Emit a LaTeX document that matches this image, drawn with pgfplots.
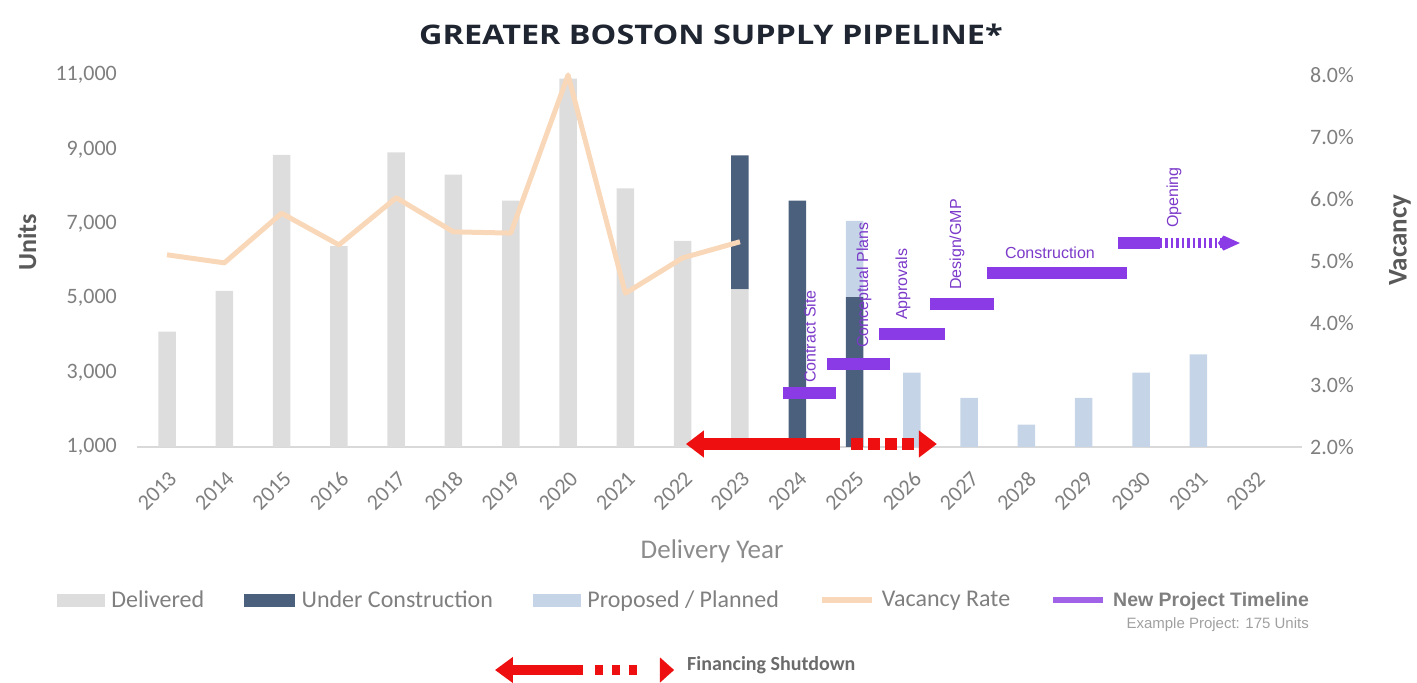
\documentclass[border=0pt]{standalone}
\usepackage{fontspec}
\setmainfont{Carlito}
\newfontfamily\arialfont{Liberation Sans}
\newfontfamily\titlefont{Open Sans}
\usepackage{pgfplots}
\usepackage{pgfplotstable}
\pgfplotsset{compat=1.18}
\usetikzlibrary{arrows.meta}

\definecolor{cDel}{HTML}{DDDDDD}
\definecolor{cUC}{HTML}{4B607D}
\definecolor{cProp}{HTML}{C5D5E7}
\definecolor{cVac}{HTML}{F9D8BA}
\definecolor{cPur}{HTML}{8A3BE6}
\definecolor{cPurL}{HTML}{A062E6}
\definecolor{cPurText}{HTML}{7B3AC9}
\definecolor{cRed}{HTML}{EE1010}
\definecolor{cTick}{HTML}{7F7F7F}
\definecolor{cXlab}{HTML}{8C8C8C}
\definecolor{cYlab}{HTML}{595959}
\definecolor{cTitle}{HTML}{1F2631}
\definecolor{cBase}{HTML}{D9D9D9}
\definecolor{cEx}{HTML}{A0A0A0}
\definecolor{cFin}{HTML}{6B6B6B}

\pgfplotstableread{
year del uc prop
2013 4100 0 0
2014 5200 0 0
2015 8850 0 0
2016 6400 0 0
2017 8920 0 0
2018 8320 0 0
2019 7620 0 0
2020 10900 0 0
2021 7950 0 0
2022 6540 0 0
2023 5240 3600 0
2024 0 7620 0
2025 0 5030 2050
2026 0 0 3000
2027 0 0 2320
2028 0 0 1600
2029 0 0 2320
2030 0 0 3000
2031 0 0 3490
}\supplytable

\pgfplotstableread{
year vac
2013 5.10
2014 4.97
2015 5.77
2016 5.26
2017 6.02
2018 5.47
2019 5.45
2020 8.00
2021 4.48
2022 5.05
2023 5.31
}\vactable

\begin{document}
\begin{tikzpicture}
\useasboundingbox (0pt,0pt) rectangle (1417pt,683pt);

\node[font=\titlefont\bfseries\fontsize{27}{27}\selectfont, text=cTitle, anchor=base, xscale=1.2, inner sep=0pt] at (711pt,638pt) {GREATER BOSTON SUPPLY PIPELINE*};

% ---------- bars (left axis) ----------
\begin{axis}[
  at={(137pt,236pt)}, anchor=south west,
  width=1165pt, height=372pt, scale only axis,
  xmin=2012.476, xmax=2032.81,
  ymin=1000, ymax=11000,
  ybar stacked, bar width=17.5pt,
  axis x line*=bottom, axis y line*=left,
  x axis line style={draw=cBase, line width=1.5pt},
  y axis line style={draw=none},
  major tick length=0pt,
  xtick={2013,...,2032},
  ytick={1000,3000,5000,7000,9000,11000},
  scaled y ticks=false,
  /pgf/number format/assume math mode=true,
  tick label style={font=\fontsize{22}{22}\selectfont, text=cTick},
  x tick label style={/pgf/number format/1000 sep={}, anchor=east, inner sep=0pt, xshift=6pt, yshift=-28pt, rotate=45},
  y tick label style={/pgf/number format/1000 sep={,}, anchor=east, inner sep=0pt, xshift=-20pt},
  xlabel={Delivery Year},
  xlabel style={at={(axis description cs:0.4936,-0.2796)}, anchor=center, font=\fontsize{27}{27}\selectfont, text=cXlab},
  ylabel={Units},
  ylabel style={at={(axis description cs:-0.0944,0.551)}, anchor=center, font=\bfseries\fontsize{26}{26}\selectfont, text=cYlab},
]
\addplot[fill=cDel, draw=none] table[x=year,y=del] {\supplytable};
\addplot[fill=cUC, draw=none] table[x=year,y=uc] {\supplytable};
\addplot[fill=cProp, draw=none] table[x=year,y=prop] {\supplytable};
\end{axis}

% ---------- vacancy, timeline, annotations (right axis) ----------
\begin{axis}[
  at={(137pt,236pt)}, anchor=south west,
  width=1165pt, height=372pt, scale only axis,
  xmin=2012.476, xmax=2032.81,
  ymin=2, ymax=8,
  axis y line*=right, axis x line=none,
  y axis line style={draw=none},
  major tick length=0pt,
  ytick={2,3,4,5,6,7,8},
  /pgf/number format/assume math mode=true,
  yticklabel={\pgfmathprintnumber[fixed,fixed zerofill,precision=1]{\tick}\%},
  y tick label style={font=\fontsize{22}{22}\selectfont, text=cTick, anchor=west, inner sep=0pt, xshift=8pt},
  ylabel={Vacancy},
  ylabel style={at={(axis description cs:1.084,0.556)}, anchor=center, font=\bfseries\fontsize{27}{27}\selectfont, text=cYlab},
  clip=false,
  legend columns=5,
  legend cell align=left,
  legend style={at={(axis description cs:-0.0687,-0.4113)}, anchor=west, draw=none, fill=none,
    inner sep=0pt, outer sep=0pt, font=\fontsize{24}{24}\selectfont, text=cTick,
    nodes={inner sep=0pt},
    /tikz/every odd column/.append style={column sep=7pt},
    /tikz/every even column/.append style={column sep=40pt}},
]
\addplot[cVac, line width=5pt, line join=round, forget plot] table[x=year,y=vac] {\vactable};

% timeline
\addplot[cPur, line width=12.5pt, forget plot] coordinates {(2023.750,2.871) (2024.675,2.871)};
\addplot[cPur, line width=12.5pt, forget plot] coordinates {(2024.518,3.339) (2025.617,3.339)};
\addplot[cPur, line width=12.5pt, forget plot] coordinates {(2025.425,3.823) (2026.577,3.823)};
\addplot[cPur, line width=12.5pt, forget plot] coordinates {(2026.315,4.306) (2027.432,4.306)};
\addplot[cPur, line width=12.5pt, forget plot] coordinates {(2027.310,4.806) (2029.753,4.806)};
\addplot[cPur, line width=12.5pt, forget plot] coordinates {(2029.596,5.290) (2030.329,5.290)};
\addplot[cPur, line width=10pt, dash pattern=on 2.5pt off 3pt, -{Kite[length=22pt,width=15pt]}, forget plot] coordinates {(2030.329,5.290) (2031.726,5.290)};

% financing shutdown arrow
\addplot[cRed, line width=12pt, {Triangle[length=18pt,width=26pt]}-, forget plot] coordinates {(2022.057,2.048) (2024.745,2.048)};
\addplot[cRed, line width=12pt, dash pattern=on 12pt off 5pt, -{Triangle[length=18pt,width=26pt]}, forget plot] coordinates {(2024.937,2.048) (2026.437,2.048)};

% legend arrow for financing shutdown
\addplot[cRed, line width=10pt, {Triangle[length=18pt,width=25pt]}-, forget plot] coordinates {(2018.724,-1.597) (2020.260,-1.597)};
\addplot[cRed, line width=10pt, dash pattern=on 8pt off 9pt, forget plot] coordinates {(2020.469,-1.597) (2021.202,-1.597)};
\addplot[cRed, line width=0.1pt, -{Triangle[length=14pt,width=25pt]}, forget plot] coordinates {(2021.603,-1.597) (2021.848,-1.597)};

% timeline labels
\node[rotate=90, anchor=west, inner sep=0pt, font=\arialfont\fontsize{16}{16}\selectfont, text=cPurText] at (axis cs:2024.221,3.032) {Contract Site};
\node[rotate=90, anchor=west, inner sep=0pt, font=\arialfont\fontsize{16}{16}\selectfont, text=cPurText] at (axis cs:2025.164,3.597) {Conceptual Plans};
\node[rotate=90, anchor=west, inner sep=0pt, font=\arialfont\fontsize{16}{16}\selectfont, text=cPurText] at (axis cs:2025.844,4.048) {Approvals};
\node[rotate=90, anchor=west, inner sep=0pt, font=\arialfont\fontsize{16}{16}\selectfont, text=cPurText] at (axis cs:2026.787,4.532) {Design/GMP};
\node[anchor=center, inner sep=0pt, font=\arialfont\fontsize{16}{16}\selectfont, text=cPurText] at (axis cs:2028.410,5.129) {Construction};
\node[rotate=90, anchor=west, inner sep=0pt, font=\arialfont\fontsize{16}{16}\selectfont, text=cPurText] at (axis cs:2030.574,5.532) {Opening};

% legend
\addlegendimage{legend image code/.code={\fill[cDel] (0pt,-6pt) rectangle (47pt,6pt);}}
\addlegendentry{Delivered}
\addlegendimage{legend image code/.code={\fill[cUC] (0pt,-6pt) rectangle (50pt,6pt);}}
\addlegendentry{Under Construction}
\addlegendimage{legend image code/.code={\fill[cProp] (0pt,-6pt) rectangle (47pt,6pt);}}
\addlegendentry{Proposed / Planned}
\addlegendimage{legend image code/.code={\draw[cVac, line width=6pt] (0pt,0pt) -- (50pt,0pt);}}
\addlegendentry{Vacancy Rate}
\addlegendimage{legend image code/.code={\draw[cPurL, line width=6pt] (0pt,0pt) -- (50pt,0pt);}}
\addlegendentry{\arialfont\bfseries\fontsize{19.5}{19.5}\selectfont New Project Timeline}
\end{axis}

\node[anchor=east, inner sep=0pt, font=\arialfont\fontsize{15}{15}\selectfont, text=cEx] at (1309pt,58pt) {Example Project: 175 Units};
\node[anchor=west, inner sep=0pt, font=\bfseries\fontsize{20}{20}\selectfont, text=cFin] at (687pt,18pt) {Financing Shutdown};
\end{tikzpicture}
\end{document}
